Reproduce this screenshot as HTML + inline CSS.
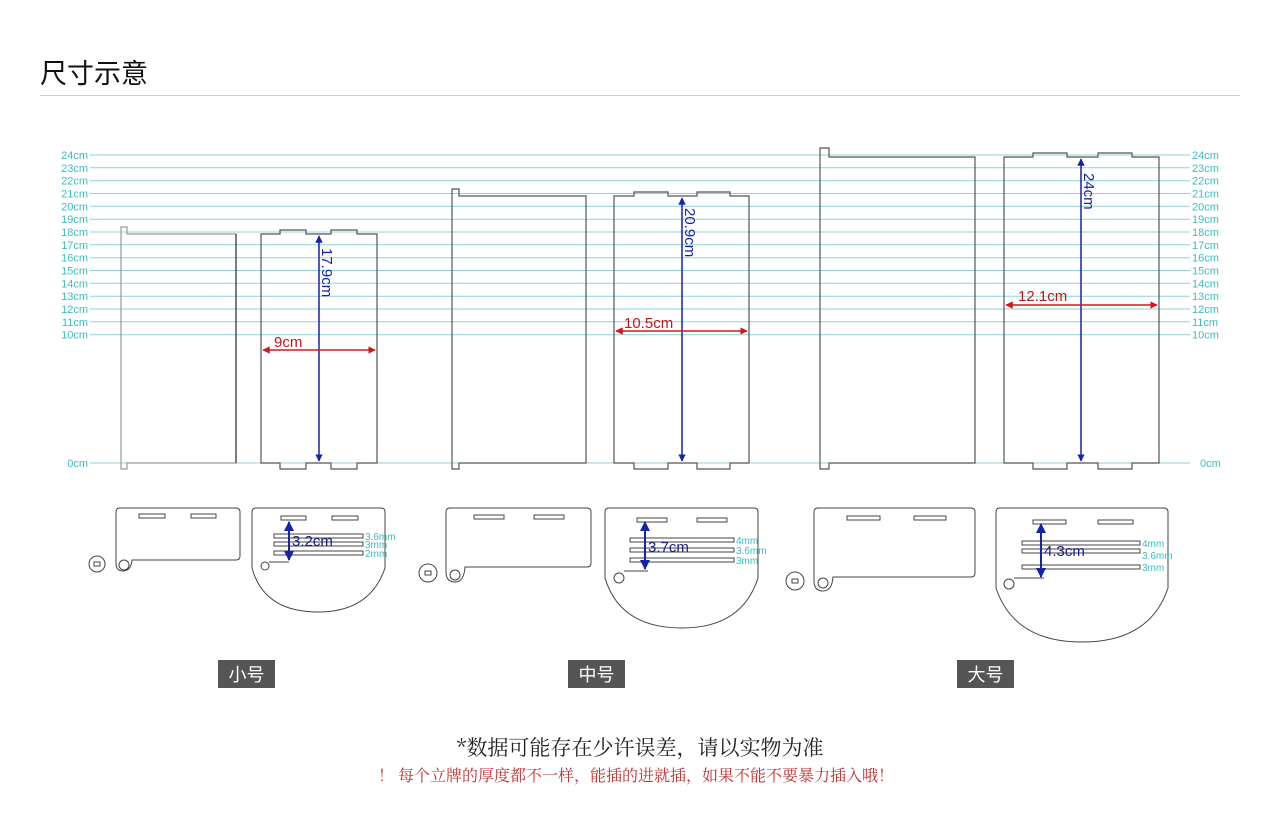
<!DOCTYPE html>
<html><head><meta charset="utf-8"><style>
body{margin:0;background:#fff;}
svg{display:block;font-family:"Liberation Sans","DejaVu Sans","Noto Sans CJK SC",sans-serif;}
</style></head><body>
<svg width="1280" height="827" viewBox="0 0 1280 827" xmlns="http://www.w3.org/2000/svg">
<defs>
<marker id="ab" viewBox="0 0 10 10" refX="9" refY="5" markerWidth="5" markerHeight="5" orient="auto-start-reverse"><path d="M0,0 L10,5 L0,10 z" fill="#1424a8"/></marker>
<marker id="ar" viewBox="0 0 10 10" refX="9" refY="5" markerWidth="5" markerHeight="5" orient="auto-start-reverse"><path d="M0,0 L10,5 L0,10 z" fill="#d01a1a"/></marker>
</defs>
<text x="40" y="83" font-size="27" font-family="Noto Sans CJK SC, sans-serif" fill="#111">尺寸示意</text>
<line x1="40" y1="95.5" x2="1240" y2="95.5" stroke="#ccc" stroke-width="1"/>
<g stroke="#8fd3d6" stroke-width="1">
<line x1="90" y1="155" x2="1190" y2="155"/><line x1="90" y1="167.8" x2="1190" y2="167.8"/><line x1="90" y1="180.7" x2="1190" y2="180.7"/><line x1="90" y1="193.5" x2="1190" y2="193.5"/><line x1="90" y1="206.3" x2="1190" y2="206.3"/><line x1="90" y1="219.2" x2="1190" y2="219.2"/><line x1="90" y1="232" x2="1190" y2="232"/><line x1="90" y1="244.8" x2="1190" y2="244.8"/><line x1="90" y1="257.7" x2="1190" y2="257.7"/><line x1="90" y1="270.5" x2="1190" y2="270.5"/><line x1="90" y1="283.3" x2="1190" y2="283.3"/><line x1="90" y1="296.2" x2="1190" y2="296.2"/><line x1="90" y1="309" x2="1190" y2="309"/><line x1="90" y1="321.8" x2="1190" y2="321.8"/><line x1="90" y1="334.7" x2="1190" y2="334.7"/><line x1="90" y1="463" x2="1190" y2="463"/>
</g>
<g font-size="11" fill="#3bbcbc" stroke="none">
<g text-anchor="end">
<text x="88" y="159">24cm</text><text x="88" y="171.8">23cm</text><text x="88" y="184.7">22cm</text><text x="88" y="197.5">21cm</text><text x="88" y="210.3">20cm</text><text x="88" y="223.2">19cm</text><text x="88" y="236">18cm</text><text x="88" y="248.8">17cm</text><text x="88" y="261.7">16cm</text><text x="88" y="274.5">15cm</text><text x="88" y="287.3">14cm</text><text x="88" y="300.2">13cm</text><text x="88" y="313">12cm</text><text x="88" y="325.8">11cm</text><text x="88" y="338.7">10cm</text><text x="88" y="467">0cm</text>
</g>
<text x="1192" y="159">24cm</text><text x="1192" y="171.8">23cm</text><text x="1192" y="184.7">22cm</text><text x="1192" y="197.5">21cm</text><text x="1192" y="210.3">20cm</text><text x="1192" y="223.2">19cm</text><text x="1192" y="236">18cm</text><text x="1192" y="248.8">17cm</text><text x="1192" y="261.7">16cm</text><text x="1192" y="274.5">15cm</text><text x="1192" y="287.3">14cm</text><text x="1192" y="300.2">13cm</text><text x="1192" y="313">12cm</text><text x="1192" y="325.8">11cm</text><text x="1192" y="338.7">10cm</text><text x="1200" y="467">0cm</text>
</g>
<g fill="none" stroke="#555" stroke-width="1.2">
<path d="M121,469 V227 H127 V234 H236 V463 H127 V469 Z" stroke="#999"/>
<line x1="236" y1="234" x2="236" y2="463" stroke="#333"/>
<path d="M261,234 H280 V230 H306 V234 H331 V230 H357 V234 H377 V463 H357 V469 H331 V463 H306 V469 H280 V463 H261 Z"/>
<path d="M452,469 V189 H459 V196 H586 V463 H459 V469 Z"/>
<path d="M614,196 H634 V192 H668 V196 H697 V192 H730 V196 H749 V463 H730 V469 H697 V463 H668 V469 H634 V463 H614 Z"/>
<path d="M820,469 V148 H829 V157 H975 V463 H829 V469 Z"/>
<path d="M1004,157 H1033 V153 H1067 V157 H1098 V153 H1132 V157 H1159 V463 H1132 V469 H1098 V463 H1067 V469 H1033 V463 H1004 Z"/>
</g>
<g stroke-width="1.5">
<line x1="319" y1="236" x2="319" y2="461" stroke="#1424a8" marker-start="url(#ab)" marker-end="url(#ab)"/>
<line x1="263" y1="350" x2="375" y2="350" stroke="#d01a1a" marker-start="url(#ar)" marker-end="url(#ar)"/>
<line x1="682" y1="198" x2="682" y2="461" stroke="#1424a8" marker-start="url(#ab)" marker-end="url(#ab)"/>
<line x1="616" y1="331" x2="747" y2="331" stroke="#d01a1a" marker-start="url(#ar)" marker-end="url(#ar)"/>
<line x1="1081" y1="159" x2="1081" y2="461" stroke="#1424a8" marker-start="url(#ab)" marker-end="url(#ab)"/>
<line x1="1006" y1="305" x2="1157" y2="305" stroke="#d01a1a" marker-start="url(#ar)" marker-end="url(#ar)"/>
</g>
<g font-size="15">
<text transform="translate(322,248) rotate(90)" fill="#1424a8">17.9cm</text>
<text x="274" y="347" fill="#c01818">9cm</text>
<text transform="translate(685,208) rotate(90)" fill="#1424a8">20.9cm</text>
<text x="624" y="328" fill="#c01818">10.5cm</text>
<text transform="translate(1084,173) rotate(90)" fill="#1424a8">24cm</text>
<text x="1018" y="301" fill="#c01818">12.1cm</text>
</g>
<g fill="none" stroke="#444" stroke-width="1">
<circle cx="97" cy="564" r="8"/><rect x="94" y="562" width="6" height="4"/>
<path d="M120,508 H236 Q240,508 240,512 V556 Q240,560 236,560 H132 Q131,571 123,571 Q116,571 116,563 V512 Q116,508 120,508 Z"/>
<circle cx="124" cy="565" r="5"/>
<rect x="139" y="514" width="26" height="4"/><rect x="191" y="514" width="25" height="4"/>
<path d="M256,508 H381 Q385,508 385,512 V568 Q370,612 318,612 Q264,612 252,568 V512 Q252,508 256,508 Z"/>
<circle cx="265" cy="566" r="4"/><line x1="269" y1="562" x2="289" y2="562"/>
<rect x="281" y="516" width="25" height="4"/><rect x="332" y="516" width="26" height="4"/>
<rect x="274" y="534" width="89" height="4"/><rect x="274" y="542" width="89" height="4"/><rect x="274" y="551" width="89" height="4"/>
<circle cx="428" cy="573" r="9"/><rect x="425" y="571" width="6" height="4"/>
<path d="M450,508 H587 Q591,508 591,512 V563 Q591,567 587,567 H465 Q464,582 455,582 Q446,582 446,572 V512 Q446,508 450,508 Z"/>
<circle cx="455" cy="575" r="5"/>
<rect x="474" y="515" width="30" height="4"/><rect x="534" y="515" width="30" height="4"/>
<path d="M609,508 H754 Q758,508 758,512 V578 Q742,628 682,628 Q620,628 605,578 V512 Q605,508 609,508 Z"/>
<circle cx="619" cy="578" r="5"/><line x1="624" y1="571" x2="648" y2="571"/>
<rect x="637" y="518" width="30" height="4"/><rect x="697" y="518" width="30" height="4"/>
<rect x="630" y="538" width="104" height="4"/><rect x="630" y="548" width="104" height="4"/><rect x="630" y="558" width="104" height="4"/>
<circle cx="795" cy="581" r="9"/><rect x="792" y="579" width="6" height="4"/>
<path d="M818,508 H971 Q975,508 975,512 V573 Q975,577 971,577 H833 Q832,591 823,591 Q814,591 814,581 V512 Q814,508 818,508 Z"/>
<circle cx="823" cy="583" r="5"/>
<rect x="847" y="516" width="33" height="4"/><rect x="914" y="516" width="32" height="4"/>
<path d="M1000,508 H1164 Q1168,508 1168,512 V588 Q1150,642 1082,642 Q1014,642 996,588 V512 Q996,508 1000,508 Z"/>
<circle cx="1009" cy="584" r="5"/><line x1="1014" y1="578" x2="1044" y2="578"/>
<rect x="1033" y="520" width="33" height="4"/><rect x="1098" y="520" width="35" height="4"/>
<rect x="1022" y="541" width="118" height="4"/><rect x="1022" y="549" width="118" height="4"/><rect x="1022" y="565" width="118" height="4"/>
</g>
<g stroke-width="2">
<line x1="289" y1="522" x2="289" y2="560" stroke="#1424a8" marker-start="url(#ab)" marker-end="url(#ab)"/>
<line x1="645" y1="522" x2="645" y2="569" stroke="#1424a8" marker-start="url(#ab)" marker-end="url(#ab)"/>
<line x1="1041" y1="524" x2="1041" y2="577" stroke="#1424a8" marker-start="url(#ab)" marker-end="url(#ab)"/>
</g>
<g font-size="15" fill="#1a1f80">
<text x="292" y="546">3.2cm</text><text x="648" y="552">3.7cm</text><text x="1044" y="556">4.3cm</text>
</g>
<g font-size="10" fill="#3bbcbc">
<text x="365" y="540">3.6mm</text><text x="365" y="548">3mm</text><text x="365" y="557">2mm</text>
<text x="736" y="544">4mm</text><text x="736" y="554">3.6mm</text><text x="736" y="564">3mm</text>
<text x="1142" y="547">4mm</text><text x="1142" y="559">3.6mm</text><text x="1142" y="571">3mm</text>
</g>
<g font-size="18" fill="#fff" font-family="Noto Sans CJK SC, sans-serif" text-anchor="middle">
<rect x="218" y="660" width="57" height="28" fill="#555"/><text x="246.5" y="681">小号</text>
<rect x="568" y="660" width="57" height="28" fill="#555"/><text x="596.5" y="681">中号</text>
<rect x="957" y="660" width="57" height="28" fill="#555"/><text x="985.5" y="681">大号</text>
</g>
<text x="640" y="755" font-size="21" text-anchor="middle" fill="#222" font-family="Noto Serif CJK SC, serif">*数据可能存在少许误差，请以实物为准</text>
<text x="636" y="781" font-size="16" text-anchor="middle" fill="#c03030" font-family="Noto Serif CJK SC, serif">！ 每个立牌的厚度都不一样，能插的进就插，如果不能不要暴力插入哦！</text>
</svg>
</body></html>
